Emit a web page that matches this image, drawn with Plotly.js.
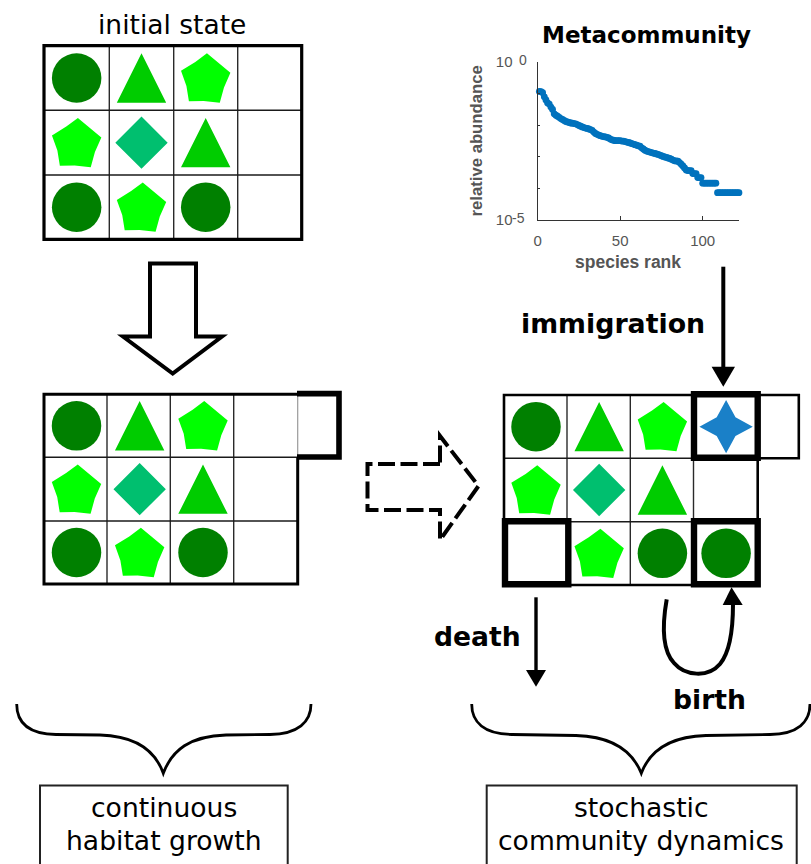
<!DOCTYPE html>
<html>
<head>
<meta charset="utf-8">
<script src="https://cdn.plot.ly/plotly-3.0.1.min.js"></script>
<style>html,body{margin:0;padding:0;background:#fff}#chart{width:811px;height:864px}</style>
</head>
<body>
<div id="chart"></div>
<script>
// Metacommunity rank-abundance values (rank = position + 1)
const relativeAbundance = [
 .115,.113,.105,.078,.062,.050,.046,.037,.031,.0225,
 .0205,.0190,.0175,.0160,.0150,.0140,.0130,.0125,.0120,.0116,
 .0114,.0111,.0109,.0103,.0097,.0092,.0087,.0083,.0080,.0078,
 .0075,.0072,.0068,.0060,.0054,.0051,.0048,.0046,.0044,.0043,
 .0042,.0041,.0039,.0036,.0034,.0033,.0032,.0032,.0032,.0032,
 .0031,.0031,.0030,.0029,.0028,.0027,.0026,.0025,.0024,.0023,
 .0022,.00215,.0019,.00175,.0016,.0015,.00145,.0014,.00135,.0013,
 .00127,.00122,.00118,.00112,.00107,.00102,.00098,.00095,.00091,.00088,
 .00083,.00078,.00074,.00073,.00072,.00065,.00058,.00051,.00044,.00038,
 .000365,.000365,.000365,.000292,.000292,.000292,.000219,.000219,.000219,.000146,
 .000146,.000146,.000146,.000146,.000146,.000146,.000146,.000146,.000073,.000073,
 .000073,.000073,.000073,.000073,.000073,.000073,.000073,.000073,.000073,.000073,
 .000073,.000073
];
const speciesRank = relativeAbundance.map((v, i) => i + 1);
const xTickValues = [0, 50, 100];
const yTickValues = [1e-5, 1];
const yTickLabels = ['10', '10'];
const yTickExponents = ['-5', '0'];
const yMinorTicks = [1e-4, 1e-3, 1e-2, 1e-1];

// Habitat states: species in each cell (c circle, t triangle, p pentagon, d diamond, s star, "." empty)
const initialState = ['ctp.', 'pdt.', 'cpc.'];
const grownState = ['ctp.', 'pdt.', 'cpc.'];
const dynamicState = ['ctps', 'pdt.', '.pcc'];

const speciesColors = {c:'#008000', t:'#00cc00', p:'#00ff00', d:'#00bf6f', s:'#1a80c8'};
const glyphs = {
  t: [[0,-1],[1,1],[-1,1]],
  p: [[.05,-1],[.53,-.6],[1,-.21],[.74,.38],[.57,1],[-.08,.93],[-.68,.94],[-.78,.32],[-1,-.29],[-.42,-.65]],
  d: [[0,-1.06],[1.06,0],[0,1.06],[-1.06,0]],
  s: [[0,-1.08],[.38,-.38],[1.08,0],[.38,.38],[0,1.08],[-.38,.38],[-1.08,0],[-.38,-.38]]
};
const glyphHalf = 24.7;

const grids = [
  {cells: initialState, xs:[44,109.3,173.7,237.7,301.7], ys:[45.7,110.3,175,239.3], dx:0, frame:3.2},
  {cells: grownState, xs:[44,107,170.3,233.7,297.7], ys:[394.3,457.3,521,584], dx:1, frame:3, openTopRight:true},
  {cells: dynamicState, xs:[504,567,630.3,693.5,757.7], ys:[395,458.3,521.7,585], dx:.5, frame:2.6}
];

const sh = [];
const ink = '#000';
function path(d, w, opt) {
  sh.push(Object.assign({type:'path', xref:'x', yref:'y', path:d, line:{color:ink, width:w}}, opt||{}));
}
function rect(x0,y0,x1,y1,w,color) {
  sh.push({type:'rect', xref:'x', yref:'y', x0, y0, x1, y1, line:{color:color||ink, width:w}});
}
function seg(x0,y0,x1,y1,w,color) {
  sh.push({type:'line', xref:'x', yref:'y', x0, y0, x1, y1, line:{color:color||ink, width:w}});
}

// cell glyph traces
const traces = [];
const polys = {t:{x:[],y:[]}, p:{x:[],y:[]}, d:{x:[],y:[]}, s:{x:[],y:[]}};
const circles = {x:[], y:[]};
grids.forEach(g => {
  g.cells.forEach((row, r) => {
    [...row].forEach((sp, c) => {
      const cx = (g.xs[c] + g.xs[c+1]) / 2 + g.dx;
      const cy = (g.ys[r] + g.ys[r+1]) / 2;
      if (sp === 'c') { circles.x.push(cx); circles.y.push(cy); }
      else if (polys[sp]) {
        const v = glyphs[sp];
        v.concat([v[0]]).forEach(q => {
          polys[sp].x.push(cx + q[0]*glyphHalf);
          polys[sp].y.push(cy + q[1]*glyphHalf);
        });
        polys[sp].x.push(null); polys[sp].y.push(null);
      }
    });
  });
  g.xs.slice(1,-1).forEach(x => seg(x, g.ys[0], x, g.ys[3], 1.4, '#2a2a2a'));
  g.ys.slice(1,-1).forEach(y => seg(g.xs[0], y, g.xs[4], y, 1.4, '#1a1a1a'));
  if (g.openTopRight) {
    const [l,,,,r] = g.xs, [t,m,,b] = g.ys;
    path(`M${r},${m} L${r},${b} L${l},${b} L${l},${t} L${r},${t}`, g.frame);
  } else {
    rect(g.xs[0], g.ys[0], g.xs[4], g.ys[3], g.frame);
  }
});
Object.keys(polys).forEach(k => traces.push({
  type:'scatter', mode:'lines', x:polys[k].x, y:polys[k].y, fill:'toself',
  fillcolor:speciesColors[k], line:{width:0, color:speciesColors[k]}, hoverinfo:'skip', showlegend:false,
  xaxis:'x', yaxis:'y'
}));
traces.push({
  type:'scatter', mode:'markers', x:circles.x, y:circles.y, hoverinfo:'skip', showlegend:false,
  marker:{symbol:'circle', size:49.5, color:speciesColors.c, line:{width:0}}, xaxis:'x', yaxis:'y'
});

// rank-abundance curve
traces.push({
  type:'scatter', mode:'markers', x:speciesRank, y:relativeAbundance, xaxis:'x2', yaxis:'y2',
  marker:{size:6.8, color:'#0072BD', line:{width:0}}, cliponaxis:false, hoverinfo:'skip', showlegend:false
});

// habitat growth extra cell on the second grid
seg(297.7, 394.3, 297.7, 457.3, 1.2, '#999');
path('M297,393.6 L339,393.6 L339,457 L297,457', 5.6);
// extension on the third grid
path('M757.7,395 L798.8,395 L798.8,458.3 L757.7,458.3', 2.6);
// highlighted cells on the third grid
rect(694,394.2,757.7,457.7,6.4);
rect(505,521.3,568.3,584.3,6.4);
rect(694,521.3,757.7,584.3,6.4);

// hollow arrow, dashed arrow
path('M150,263.5 L196,263.5 L196,336.5 L222,336.5 L172.7,373.5 L123,336.5 L150,336.5 Z', 4, {fillcolor:'#fff'});
path('M440,464 L367.5,464 L367.5,510 L440,510 L440,540 L478.5,486 L440,436 L440,464', 4, {line:{color:ink, width:4, dash:'17px,5.5px'}});

// solid arrows
function headDown(x, y0, y1, hw) { path(`M${x-hw},${y0} L${x+hw},${y0} L${x},${y1} Z`, 0, {fillcolor:ink, line:{width:0}}); }
seg(723.3,266.7,723.3,368,4);
headDown(723.3,366.7,386.7,11.7);
seg(536,597.3,536,671,3.4);
headDown(536,670,686.7,10);
path('M666.7,599.3 C662,626 662,650 674,663 C685,676 708,678 720,664 C730,652 733,628 733,604', 4);
path('M722.7,605 L742.7,605 L731.5,587.3 Z', 0, {fillcolor:ink, line:{width:0}});

// braces
path('M16.7,704 C16.7,722 28,734 56,734.5 L100,735 C135,736 155,750 163.3,773.3 C172,750 190,736 226,735 L270,734.5 C298,734 311,722 311,704', 2.8);
path('M471.7,704 C471.7,722 484,734 512,734.5 L576,735.5 C612,736.5 632,750 641.3,773.3 C650,750 670,736.5 706,735.5 L770,734.5 C798,734 810,722 810,704', 2.8);

// text boxes
path('M40,870 L40,785.5 L287.7,785.5 L287.7,870', 2, {line:{color:'#222', width:2}});
path('M486.7,870 L486.7,785.5 L796.7,785.5 L796.7,870', 2, {line:{color:'#222', width:2}});

const dj = 'DejaVu Sans';
const note = (text, x, y, size, bold) => ({
  text, x, y, xref:'x', yref:'y', showarrow:false, xanchor:'center', yanchor:'middle',
  font:{family:dj, size, color:'#000', weight: bold ? 700 : 400}
});
const axisInk = '#555';
const insetNote = (text, x, y, size, weight) => ({
  text, x, y, xref:'x', yref:'y', showarrow:false, xanchor:'center', yanchor:'middle',
  font:{family:'Liberation Sans', size, color:axisInk, weight}
});
const annotations = [
  note('initial state', 172, 24, 26.5),
  note('Metacommunity', 646, 35, 23, true),
  note('immigration', 613, 323, 26.8, true),
  note('death', 477.5, 636, 26.6, true),
  note('birth', 709.5, 699, 26.6, true),
  note('continuous', 163.5, 807, 26.6),
  note('habitat growth', 163.5, 840, 26.6),
  note('stochastic', 641, 807, 26.6),
  note('community dynamics', 641, 840, 26.6),
  insetNote('species rank', 628, 261.5, 17.5, 700),
  insetNote(yTickExponents[0], 518.5, 217.5, 14, 400),
  insetNote(yTickExponents[1], 522.5, 60, 14, 400)
];

const layout = {
  width:811, height:864, margin:{l:0, r:0, t:0, b:0}, paper_bgcolor:'#fff', plot_bgcolor:'rgba(0,0,0,0)',
  showlegend:false, shapes:sh, annotations,
  xaxis:{range:[0,811], domain:[0,1], visible:false, fixedrange:true},
  yaxis:{range:[864,0], domain:[0,1], visible:false, fixedrange:true},
  xaxis2:{
    anchor:'y2', domain:[537.7/811, 739.3/811], range:[0,122.2], showgrid:false, zeroline:false, showline:true,
    linecolor:'#333', linewidth:1.4, ticks:'inside', ticklen:4, tickwidth:1.2, tickcolor:'#333',
    tickvals:xTickValues, ticktext:xTickValues.map(String), ticklabelstandoff:7,
    tickfont:{family:'Liberation Sans', size:15, color:axisInk}
  },
  yaxis2:{
    anchor:'x2', domain:[1-220/864, 1-61.7/864], type:'log', range:[-5,0], showgrid:false, zeroline:false, showline:true,
    linecolor:'#333', linewidth:1.4, ticks:'inside', ticklen:4, tickwidth:1.2, tickcolor:'#333',
    tickvals:yTickValues, ticktext:yTickLabels, ticklabelshift:3.5, ticklabelstandoff:21,
    tickfont:{family:'Liberation Sans', size:15, color:axisInk},
    minor:{tickvals:yMinorTicks, ticks:'inside', ticklen:2, tickwidth:1.2, tickcolor:'#333', showgrid:false},
    title:{text:'relative abundance', standoff:8, font:{family:'Liberation Sans', size:16.7, color:axisInk, weight:700}}
  }
};
Plotly.newPlot('chart', traces, layout, {displayModeBar:false, responsive:false});
</script>
</body>
</html>
